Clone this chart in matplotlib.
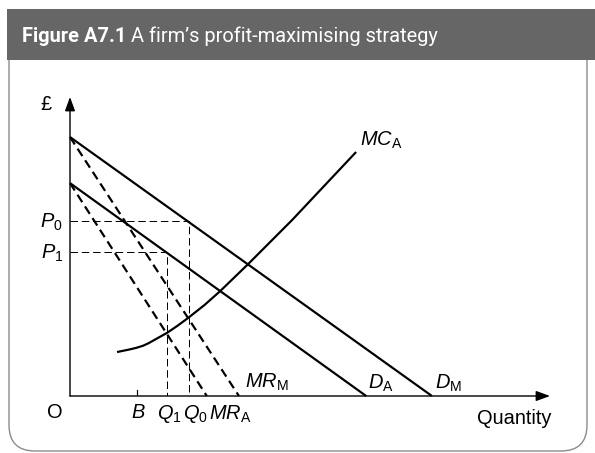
import matplotlib.pyplot as plt
from matplotlib.patches import FancyBboxPatch, Rectangle

plt.rcParams['font.family'] = ['Liberation Sans', 'DejaVu Sans']
plt.rcParams['mathtext.fontset'] = 'custom'
plt.rcParams['mathtext.it'] = 'Liberation Sans:italic'
plt.rcParams['mathtext.rm'] = 'Liberation Sans'

# demand curves: price intercept, quantity intercept
dm_price, dm_qty = 86.6, 75.4
da_price, da_qty = 71.2, 61.7
# marginal revenue curves cut the quantity axis here
mrm_qty = 35.2
mra_qty = 28.5
# prices / quantities marked on the axes
p0, p1 = 58.5, 48.2
q0, q1 = 24.8, 20.2
b_qty = 14.0
# marginal cost curve MC_A
mc_q = [9.8, 12.5, 13.8, 15.2, 16.3, 17.3, 20.2, 22.4, 24.6, 28.0, 31.3, 37.1, 46.3, 59.6]
mc_c = [14.7, 15.6, 16.1, 16.8, 17.6, 18.5, 21.1, 23.5, 26.1, 30.4, 35.1, 44.1, 58.9, 81.6]

PT = 0.72  # points per pixel at dpi 100
W, H = 595, 453

fig = plt.figure(figsize=(W / 100, H / 100), dpi=100)

# background frame and header band, drawn in pixel units
bg = fig.add_axes([0, 0, 1, 1])
bg.set_xlim(0, W)
bg.set_ylim(H, 0)
bg.axis('off')
bg.add_patch(FancyBboxPatch((9, 30), 578, 421, boxstyle='round,pad=0,rounding_size=26',
                            fc='white', ec='#8c8c8c', lw=1.4 * PT))
bg.add_patch(Rectangle((7, 9), W, 51, fc='#666666', ec='none'))
bg.text(22, 42, 'Figure A7.1', color='white', fontsize=20 * PT, fontweight='bold',
        family='Roboto', va='baseline', ha='left')
bg.text(131, 42, 'A firm\u2019s profit-maximising strategy', color='white', fontsize=20 * PT,
        family='Roboto', va='baseline', ha='left')

# chart axes
ax = fig.add_axes([70 / W, (H - 396) / H, 480 / W, 299 / H])
ax.set_xlim(0, 100)
ax.set_ylim(0, 100)
ax.axis('off')

arrow = dict(arrowstyle='-|>,head_length=0.6,head_width=0.22', color='black',
             lw=1.4 * PT, mutation_scale=14, shrinkA=0, shrinkB=0)
ax.annotate('', xy=(100, 0), xytext=(0, 0), arrowprops=arrow, annotation_clip=False)
ax.annotate('', xy=(0, 100), xytext=(0, 0), arrowprops=arrow, annotation_clip=False)

solid = dict(color='black', lw=2.2 * PT, solid_capstyle='butt', clip_on=False)
ax.plot([0, dm_qty], [dm_price, 0], **solid)
ax.plot([0, da_qty], [da_price, 0], **solid)
ax.plot(mc_q, mc_c, solid_joinstyle='round', **solid)

mr = dict(color='black', lw=2.2 * PT, dashes=(4.0, 2.3), clip_on=False)
ax.plot([0, mrm_qty], [dm_price, 0], **mr)
ax.plot([0, mra_qty], [da_price, 0], **mr)

guide = dict(color='black', lw=1.0 * PT, dashes=(7.5, 3.8))
ax.plot([0, q0, q0], [p0, p0, 0], **guide)
ax.plot([0, q1, q1], [p1, p1, 0], **guide)

# small tick at B
ax.plot([b_qty, b_qty], [0, 2], color='black', lw=1.2 * PT)

fs = 20 * PT


def label(txt, xy, dx, dy, ha='center'):
    ax.annotate(txt, xy=xy, xytext=(dx * PT, dy * PT), textcoords='offset points',
                ha=ha, va='center', fontsize=fs, annotation_clip=False)


label('\u00a3', (0, 100), -24, -8)
label('$P_0$', (0, p0), -7, -1, ha='right')
label('$P_1$', (0, p1), -7, -1, ha='right')
label('O', (0, 0), -15, -16)
label('$B$', (b_qty, 0), 1, -16)
label('$Q_1$', (q1, 0), 2, -18)
label('$Q_0$', (q0, 0), 6, -18)
label('$MR_{\\mathrm{A}}$', (mra_qty, 0), 2, -18, ha='left')
label('$MR_{\\mathrm{M}}$', (mrm_qty, 0), 6, 14, ha='left')
label('$D_{\\mathrm{A}}$', (da_qty, 0), 2, 13, ha='left')
label('$D_{\\mathrm{M}}$', (dm_qty, 0), 3, 13, ha='left')
label('Quantity', (100, 0), 1, -23, ha='right')
label('$MC_{\\mathrm{A}}$', (mc_q[-1], mc_c[-1]), 4, 12, ha='left')

fig.savefig('out.png', dpi=100)
